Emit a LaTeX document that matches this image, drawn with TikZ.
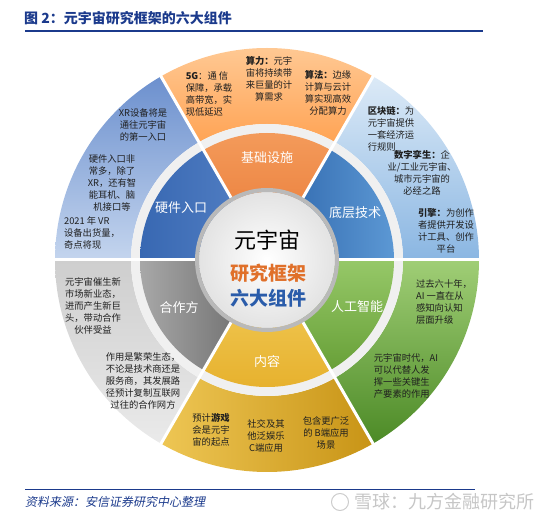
\documentclass[tikz,border=0pt]{standalone}
\usepackage{fontspec}
\setmainfont{Noto Sans CJK SC}
\newfontfamily\cjkslant[FakeSlant=0.2]{Noto Sans CJK SC}
\usepackage{tikz}
\usetikzlibrary{calc}
\definecolor{titleblue}{HTML}{1B3A8C}
\definecolor{centerorange}{HTML}{E0702A}
\definecolor{centerblue}{HTML}{2A5CAA}

\begin{document}
\begin{tikzpicture}[x=1pt, y=1pt, line join=round,
    note/.style={font=\fontsize{9.3}{12}\selectfont, align=center, inner sep=0pt, text=black!88},
    seclabel/.style={font=\fontsize{13}{15}\selectfont, text=white, inner sep=0pt}]
    \useasboundingbox (0,0) rectangle (554,519);
    \coordinate (O) at (267,259);

    % outer ring: six pieces
    \shade[top color=orange!40!white, bottom color=orange!65!white!95!red] ($(O)+(60:212)$) arc[start angle=60, end angle=120, radius=212] -- ($(O)+(120:136)$) arc[start angle=120, end angle=60, radius=136] -- cycle;
    \shade[top color={rgb,255:red,220;green,234;blue,247}, bottom color={rgb,255:red,138;green,182;blue,226}] ($(O)+(0:212)$) arc[start angle=0, end angle=60, radius=212] -- ($(O)+(60:136)$) arc[start angle=60, end angle=0, radius=136] -- cycle;
    \shade[top color={rgb,255:red,160;green,206;blue,118}, bottom color={rgb,255:red,76;green,138;blue,38}] ($(O)+(-60:212)$) arc[start angle=-60, end angle=0, radius=212] -- ($(O)+(0:136)$) arc[start angle=0, end angle=-60, radius=136] -- cycle;
    \shade[left color={rgb,255:red,238;green,198;blue,84}, right color={rgb,255:red,200;green,148;blue,22}] ($(O)+(-120:212)$) arc[start angle=-120, end angle=-60, radius=212] -- ($(O)+(-60:136)$) arc[start angle=-60, end angle=-120, radius=136] -- cycle;
    \shade[top color={rgb,255:red,206;green,206;blue,206}, bottom color={rgb,255:red,234;green,234;blue,234}] ($(O)+(180:212)$) arc[start angle=180, end angle=240, radius=212] -- ($(O)+(240:136)$) arc[start angle=240, end angle=180, radius=136] -- cycle;
    \shade[top color={rgb,255:red,108;green,144;blue,206}, bottom color={rgb,255:red,196;green,213;blue,238}] ($(O)+(120:212)$) arc[start angle=120, end angle=180, radius=212] -- ($(O)+(180:136)$) arc[start angle=180, end angle=120, radius=136] -- cycle;

    % light ring between the two rings
    \fill[gray!12] (O) circle[radius=136];

    % inner sectors
    \shade[top color={rgb,255:red,244;green,156;blue,92}, bottom color={rgb,255:red,232;green,118;blue,50}] (O) -- ($(O)+(60:127)$) arc[start angle=60, end angle=120, radius=127] -- cycle;
    \shade[left color={rgb,255:red,44;green,100;blue,170}, right color={rgb,255:red,92;green,152;blue,212}] (O) -- ($(O)+(0:127)$) arc[start angle=0, end angle=60, radius=127] -- cycle;
    \shade[top color={rgb,255:red,150;green,200;blue,104}, bottom color={rgb,255:red,104;green,160;blue,56}] (O) -- ($(O)+(-60:127)$) arc[start angle=-60, end angle=0, radius=127] -- cycle;
    \shade[top color={rgb,255:red,244;green,208;blue,96}, bottom color={rgb,255:red,230;green,176;blue,44}] (O) -- ($(O)+(-120:127)$) arc[start angle=-120, end angle=-60, radius=127] -- cycle;
    \shade[left color={rgb,255:red,168;green,168;blue,168}, right color={rgb,255:red,100;green,100;blue,100}] (O) -- ($(O)+(180:127)$) arc[start angle=180, end angle=240, radius=127] -- cycle;
    \shade[left color={rgb,255:red,56;green,104;blue,178}, right color={rgb,255:red,86;green,130;blue,198}] (O) -- ($(O)+(120:127)$) arc[start angle=120, end angle=180, radius=127] -- cycle;

    % white cuts between pieces
    \foreach \a in {0,60,...,300}
        \draw[white, line width=3pt] ($(O)+(\a:68)$) -- ($(O)+(\a:213)$);

    % centre disc
    \shade[inner color=white, outer color=gray!22] (O) circle[radius=68];
    \draw[gray!55, line width=4pt] (O) circle[radius=70];

    % title and rules
    \node[anchor=west, inner sep=0pt, text=titleblue, font=\fontsize{14}{16}\selectfont\bfseries] (title) at (24,501) {图 2：元宇宙研究框架的六大组件};
    \draw[titleblue, line width=2pt] (25,488) -- (483,488);
    \draw[titleblue, line width=1pt] (25,29) -- (475,29);
    \node[anchor=west, inner sep=0pt, text=titleblue, font=\fontsize{12}{13}\selectfont\cjkslant] (source) at (25,17) {资料来源：安信证券研究中心整理};
    \draw[gray!40, line width=1pt] (340,17) circle[radius=8.5];
    \node[anchor=west, inner sep=0pt, text=gray!45, font=\fontsize{18}{19}\selectfont] (mark) at (354,17) {雪球：九方金融研究所};

    % centre text
    \node[inner sep=0pt, font=\fontsize{22}{24}\selectfont] (meta) at (267,279) {元宇宙};
    \node[inner sep=0pt, text=centerorange, font=\fontsize{19}{21}\selectfont\bfseries] (frame) at (268,246) {研究框架};
    \node[inner sep=0pt, text=centerblue, font=\fontsize{19}{21}\selectfont\bfseries] (six) at (268,221) {六大组件};

    % inner labels
    \node[seclabel] (infra) at (267,361) {基础设施};
    \node[seclabel] (base) at (355,306) {底层技术};
    \node[seclabel] (ai) at (357,212) {人工智能};
    \node[seclabel] (content) at (267,157) {内容};
    \node[seclabel] (partner) at (179,211) {合作方};
    \node[seclabel] (hardware) at (181,311) {硬件入口};

    % outer notes
    \node[note, align=left] (fiveg) at (209,425) {\textbf{5G}：通\ 信\\保障，承载\\高带宽，实\\现低延迟};
    \node[note] (power) at (269,440) {\textbf{算力：}元宇\\宙将持续带\\来巨量的计\\算需求};
    \node[note] (algo) at (328,426) {\textbf{算法：}边缘\\计算与云计\\算实现高效\\分配算力};
    \node[note] (xr) at (143,394) {XR设备将是\\通往元宇宙\\的第一入口};
    \node[note] (entry) at (112,336) {硬件入口非\\常多，除了\\XR，还有智\\能耳机、脑\\机接口等};
    \node[note, align=left] (vr) at (92,286) {2021 年 VR\\设备出货量，\\奇点将现};
    \node[note, align=left] (chain) at (391,390) {\textbf{区块链：}为\\元宇宙提供\\一套经济运\\行规则};
    \node[note] (twin) at (422,346) {\textbf{数字孪生：}企\\业/工业元宇宙、\\城市元宇宙的\\必经之路};
    \node[note] (engine) at (446,288) {\textbf{引擎：}为创作\\者提供开发设\\计工具、创作\\平台};
    \node[note, align=left] (sixty) at (444,217) {过去六十年，\\AI 一直在从\\感知向认知\\层面升级};
    \node[note, align=left] (aiera) at (406,143) {元宇宙时代，AI\\可以代替人发\\挥一些关键生\\产要素的作用};
    \node[note] (market) at (93,213) {元宇宙催生新\\市场新业态，\\进而产生新巨\\头，带动合作\\伙伴受益};
    \node[note] (role) at (143,138) {作用是繁荣生态，\\不论是技术商还是\\服务商，其发展路\\径预计复制互联网\\过往的合作网方};
    \node[note] (game) at (211,89) {预计\textbf{游戏}\\会是元宇\\宙的起点};
    \node[note] (social) at (266,83) {社交及其\\他泛娱乐\\C端应用};
    \node[note] (bside) at (326,86) {包含更广泛\\的 B端应用\\场景};
\end{tikzpicture}
\end{document}
